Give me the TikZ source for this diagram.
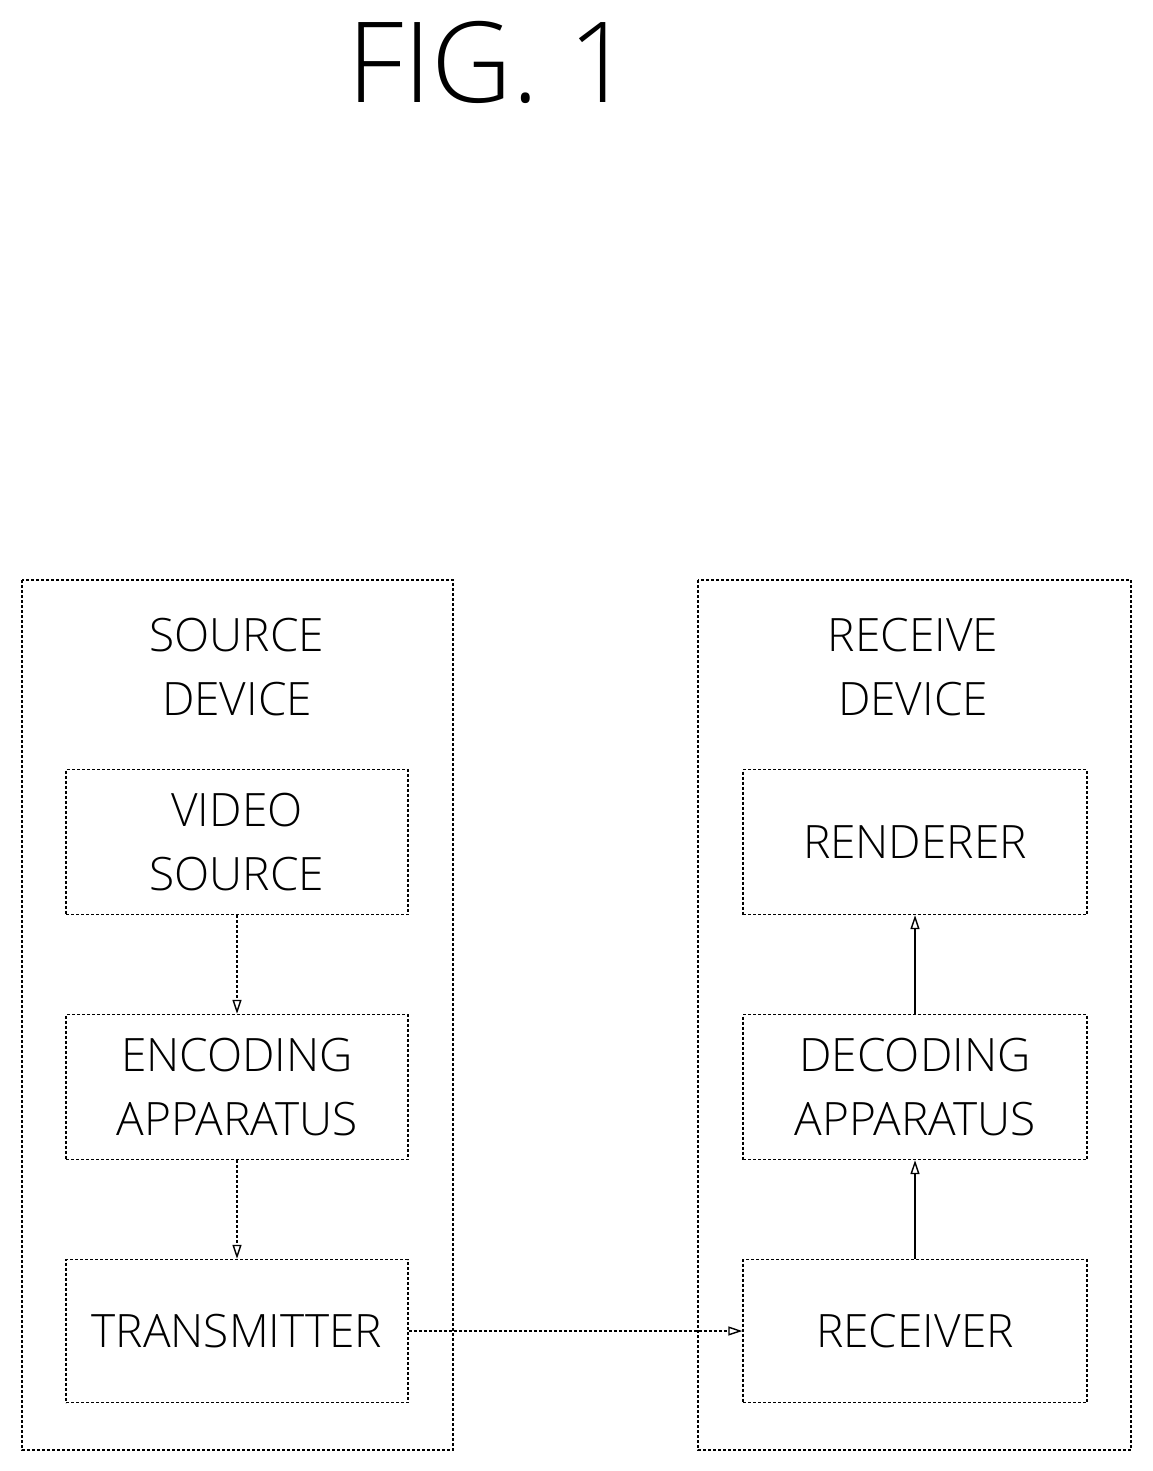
\documentclass[tikz,border=0pt]{standalone}
\usepackage{fontspec}
\setmainfont{Open Sans Light}[BoldFont=Open Sans]
\usetikzlibrary{arrows.meta}
\begin{document}
\begin{tikzpicture}[x=1pt,y=-1pt,
  dsh/.style={line width=1.4pt,dash pattern=on 3pt off 2pt},
  box/.style={dsh,draw,align=center,font=\fontsize{46}{64}\selectfont,inner sep=0pt},
  arr/.style={line width=1.4pt,-{Triangle[open,length=14pt,width=9pt]}}]
\useasboundingbox (0,0) rectangle (1152,1471);
\node[font=\fontsize{112}{120}\selectfont] (fig) at (490,62) {FIG. 1};
\draw[dsh] (22,580) rectangle (453,1450);
\draw[dsh] (698,580) rectangle (1131,1450);
\node[font=\fontsize{46}{64}\selectfont,align=center] (st) at (237,667) {SOURCE\\DEVICE};
\node[font=\fontsize{46}{64}\selectfont,align=center] (rt) at (913,667) {RECEIVE\\DEVICE};
\node[box,minimum width=342pt,minimum height=145pt] (vs) at (237,842) {VIDEO\\SOURCE};
\node[box,minimum width=342pt,minimum height=145pt] (en) at (237,1087) {ENCODING\\APPARATUS};
\node[box,minimum width=342pt,minimum height=143pt] (tx) at (237,1331) {TRANSMITTER};
\node[box,minimum width=344pt,minimum height=145pt] (re) at (915,842) {RENDERER};
\node[box,minimum width=344pt,minimum height=145pt] (de) at (915,1087) {DECODING\\APPARATUS};
\node[box,minimum width=344pt,minimum height=143pt] (rx) at (915,1331) {RECEIVER};
\draw[arr,dsh] (vs) -- (en);
\draw[arr,dsh] (en) -- (tx);
\draw[arr,dsh] (tx) -- (rx);
\draw[arr] (rx) -- (de);
\draw[arr] (de) -- (re);
\end{tikzpicture}
\end{document}
